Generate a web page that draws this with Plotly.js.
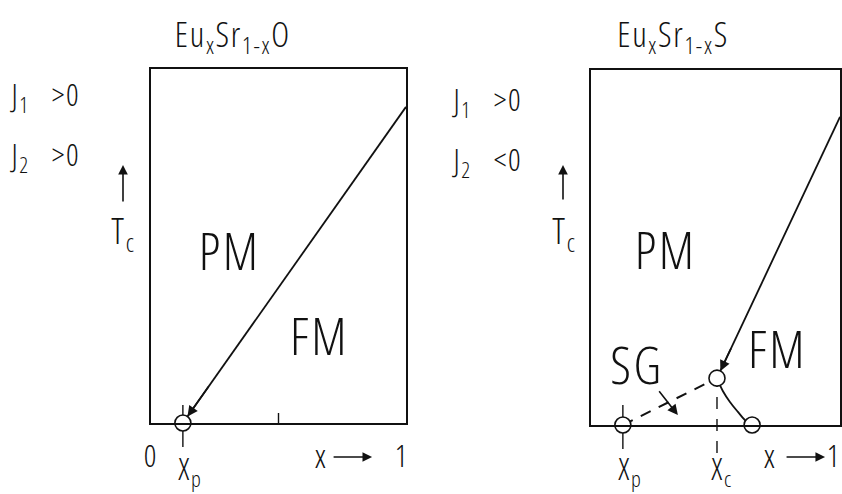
<!DOCTYPE html>
<html>
<head>
<meta charset="utf-8">
<script src="https://cdn.plot.ly/plotly-3.0.1.min.js"></script>
<style>
  html, body { margin: 0; padding: 0; background: #fff; }
  #chart { width: 842px; height: 494px; }
  /* narrow drafting-style lettering */
  #chart svg text { font-stretch: 75%; letter-spacing: 0.05em; }
</style>
</head>
<body>
<div id="chart"></div>
<script>
// ---- Eu_x Sr_1-x O : ferromagnetic boundary above the percolation threshold ----
const oxideXp = 0.125;                 // percolation concentration x_p
const oxideTcX = [0.125, 1.0];         // T_c(x) line
const oxideTcY = [0.0, 0.893];
const oxideTicks = [0.125, 0.5];

// ---- Eu_x Sr_1-x S : PM / FM / SG phase diagram ----
const sulfXp = 0.128;
const sulfXc = 0.506;
const sulfTcX = [0.506, 1.0];          // PM -> FM boundary
const sulfTcY = [0.132, 0.868];
const sulfSgX = [0.128, 0.506];        // PM -> SG boundary (dashed)
const sulfSgY = [0.0, 0.132];
const sulfReX = [0.506, 0.53, 0.558, 0.59, 0.618, 0.647];   // re-entrant FM -> SG
const sulfReY = [0.132, 0.095, 0.065, 0.037, 0.014, 0.0];
const sulfCircleX = [0.128, 0.506, 0.647];
const sulfCircleY = [0.0, 0.132, 0.0];
const crossArrowX = [0.269, 0.349];    // short arrow across the SG line
const crossArrowY = [0.099, 0.028];

const FONT = "'Open Sans', sans-serif";
const INK = '#111';

const lineStyle = { color: INK, width: 1.8 };
const circleMarker = { size: 16, color: '#fff', line: { color: INK, width: 1.6 } };

const traces = [
  { x: oxideTcX, y: oxideTcY, xaxis: 'x', yaxis: 'y', mode: 'lines', line: lineStyle, hoverinfo: 'skip' },
  { x: [oxideXp], y: [0], xaxis: 'x', yaxis: 'y', mode: 'markers', marker: circleMarker, cliponaxis: false, hoverinfo: 'skip' },

  { x: sulfTcX, y: sulfTcY, xaxis: 'x2', yaxis: 'y2', mode: 'lines', line: lineStyle, hoverinfo: 'skip' },
  { x: sulfSgX, y: sulfSgY, xaxis: 'x2', yaxis: 'y2', mode: 'lines', line: { color: INK, width: 2, dash: '11px,9px' }, hoverinfo: 'skip' },
  { x: sulfReX, y: sulfReY, xaxis: 'x2', yaxis: 'y2', mode: 'lines', line: { color: INK, width: 1.8, shape: 'spline' }, hoverinfo: 'skip' },
  { x: sulfCircleX, y: sulfCircleY, xaxis: 'x2', yaxis: 'y2', mode: 'markers', marker: circleMarker, cliponaxis: false, hoverinfo: 'skip' }
];

function frameAxis(domain, lw) {
  return { domain: domain, range: [0, 1], showline: true, mirror: true, linecolor: INK, linewidth: lw,
           showgrid: false, zeroline: false, showticklabels: false, ticks: '', fixedrange: true };
}

// vertical tick marks through the x axis, sized in pixels
function tickShape(xr, yr, x, below, above, dash) {
  return { type: 'line', xref: xr, yref: yr + ' domain', x0: x, x1: x, ysizemode: 'pixel', yanchor: 0,
           y0: -below, y1: above, line: { color: INK, width: 1.4, dash: dash || 'solid' }, layer: 'below' };
}

const shapes = [
  tickShape('x', 'y', oxideTicks[0], 24, 18),
  tickShape('x', 'y', oxideTicks[1], 0, 10),
  tickShape('x2', 'y2', sulfXp, 24, 20),
  tickShape('x2', 'y2', sulfXc, 28, 40, '12px,10px')
];

function txt(text, xref, x, yref, y, size, extra) {
  return Object.assign({ text: text, xref: xref, x: x, yref: yref, y: y, showarrow: false,
    font: { family: FONT, size: size, color: INK, weight: 300 }, xanchor: 'center', yanchor: 'middle' }, extra || {});
}

function along(xs, ys, f) {   // point a fraction f of the way from the end back to the start
  return [xs[0] + f * (xs[1] - xs[0]), ys[0] + f * (ys[1] - ys[0])];
}

const oTail = along(oxideTcX, oxideTcY, 0.12);
const sTail = along(sulfTcX, sulfTcY, 0.12);

function arrow(xr, yr, hx, hy, tx, ty, standoff) {
  return { xref: xr, yref: yr, axref: xr, ayref: yr, x: hx, y: hy, ax: tx, ay: ty, text: '',
           showarrow: true, arrowhead: 2, arrowsize: 1.3, arrowwidth: 1.6, arrowcolor: INK, standoff: standoff || 0 };
}

function pxArrow(xr, x, yr, y, ax, ay) {
  return { xref: xr, yref: yr, x: x, y: y, ax: ax, ay: ay, text: '', showarrow: true,
           arrowhead: 2, arrowsize: 1.2, arrowwidth: 1.6, arrowcolor: INK };
}

const GAP = '&nbsp;&nbsp;&nbsp;';

const annotations = [
  // titles
  txt('Eu<sub>x</sub>Sr<sub>1-x</sub>O', 'paper', 233 / 842, 'paper', 1 - 36 / 494, 34),
  txt('Eu<sub>x</sub>Sr<sub>1-x</sub>S', 'paper', 673 / 842, 'paper', 1 - 36 / 494, 34),
  // exchange conditions
  txt('J<sub>1</sub>' + GAP + '>0', 'paper', 1 / 842, 'paper', 1 - 96 / 494, 31, { xanchor: 'left' }),
  txt('J<sub>2</sub>' + GAP + '>0', 'paper', 1 / 842, 'paper', 1 - 156 / 494, 31, { xanchor: 'left' }),
  txt('J<sub>1</sub>' + GAP + '>0', 'paper', 443 / 842, 'paper', 1 - 101 / 494, 31, { xanchor: 'left' }),
  txt('J<sub>2</sub>' + GAP + '<0', 'paper', 443 / 842, 'paper', 1 - 161 / 494, 31, { xanchor: 'left' }),
  // temperature axis labels
  txt('T<sub>c</sub>', 'paper', 124 / 842, 'paper', 1 - 232 / 494, 36),
  txt('T<sub>c</sub>', 'paper', 564 / 842, 'paper', 1 - 232 / 494, 36),
  pxArrow('paper', 123 / 842, 'paper', 1 - 165 / 494, 0, 38),
  pxArrow('paper', 563 / 842, 'paper', 1 - 165 / 494, 0, 36),
  // phase labels
  txt('PM', 'x', 0.306, 'y', 0.49, 52),
  txt('FM', 'x', 0.661, 'y', 0.25, 52),
  txt('PM', 'x2', 0.301, 'y2', 0.496, 52),
  txt('FM', 'x2', 0.749, 'y2', 0.217, 52),
  txt('SG', 'x2', 0.183, 'y2', 0.172, 52),
  // concentration axis
  txt('0', 'x', 0, 'paper', 1 - 455 / 494, 31),
  txt('X<sub>p</sub>', 'x', oxideXp, 'paper', 1 - 470 / 494, 32, { xanchor: 'left', xshift: -11 }),
  txt('x', 'x', 0.667, 'paper', 1 - 455 / 494, 33),
  pxArrow('x', 0.867, 'paper', 1 - 457 / 494, -40, 0),
  txt('1', 'x', 0.985, 'paper', 1 - 455 / 494, 31),
  txt('0', 'x2', -0.016, 'paper', 1 - 455 / 494, 31),
  txt('X<sub>p</sub>', 'x2', sulfXp, 'paper', 1 - 470 / 494, 32, { xanchor: 'left', xshift: -11 }),
  txt('X<sub>c</sub>', 'x2', sulfXc, 'paper', 1 - 470 / 494, 32, { xanchor: 'left', xshift: -12 }),
  txt('x', 'x2', 0.719, 'paper', 1 - 455 / 494, 33),
  pxArrow('x2', 0.94, 'paper', 1 - 457 / 494, -40, 0),
  txt('1', 'x2', 0.975, 'paper', 1 - 455 / 494, 31),
  // arrowheads on the boundaries
  arrow('x', 'y', oxideTcX[0], oxideTcY[0], oTail[0], oTail[1], 8),
  arrow('x2', 'y2', sulfTcX[0], sulfTcY[0], sTail[0], sTail[1], 8),
  arrow('x2', 'y2', crossArrowX[1], crossArrowY[1], crossArrowX[0], crossArrowY[0], 0)
];

const layout = {
  width: 842, height: 494,
  margin: { l: 0, r: 0, t: 0, b: 0 },
  paper_bgcolor: '#fff', plot_bgcolor: 'rgba(0,0,0,0)',
  showlegend: false,
  xaxis: Object.assign(frameAxis([151 / 842, 406 / 842], 2.2), { anchor: 'y' }),
  yaxis: Object.assign(frameAxis([1 - 423 / 494, 1 - 69 / 494], 1.6), { anchor: 'x' }),
  xaxis2: Object.assign(frameAxis([591 / 842, 840 / 842], 2.2), { anchor: 'y2' }),
  yaxis2: Object.assign(frameAxis([1 - 425 / 494, 1 - 70 / 494], 1.6), { anchor: 'x2' }),
  shapes: shapes,
  annotations: annotations
};

Plotly.newPlot('chart', traces, layout, { staticPlot: true });
</script>
</body>
</html>
